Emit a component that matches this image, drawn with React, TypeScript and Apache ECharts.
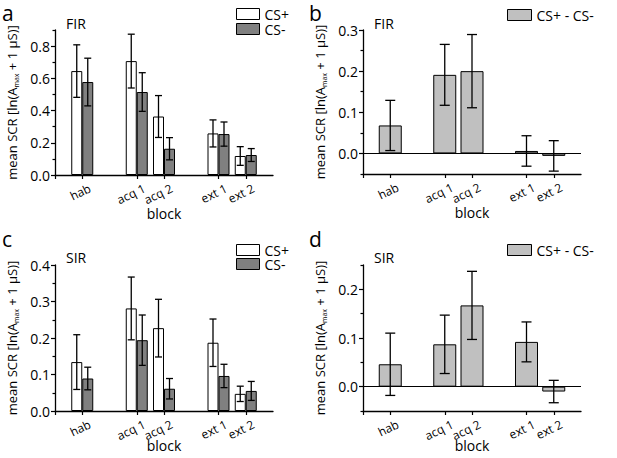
import React, { useEffect, useRef } from 'react';
import * as echarts from 'echarts';

// ---- data ----
const blocks = ['hab', 'acq 1', 'acq 2', 'ext 1', 'ext 2'];
const blockSlots = [1, 3, 4, 6, 7];
const slotCount = 9;

const firCsPlus = [0.645, 0.707, 0.363, 0.258, 0.118];
const firCsPlusErr = [0.163, 0.167, 0.13, 0.084, 0.058];
const firCsMinus = [0.577, 0.515, 0.163, 0.254, 0.124];
const firCsMinusErr = [0.148, 0.12, 0.069, 0.075, 0.04];
const firDiff = [0.068, 0.191, 0.2, 0.006, -0.006];
const firDiffErr = [0.061, 0.074, 0.089, 0.037, 0.037];

const sirCsPlus = [0.134, 0.281, 0.227, 0.187, 0.047];
const sirCsPlusErr = [0.075, 0.086, 0.079, 0.065, 0.021];
const sirCsMinus = [0.089, 0.194, 0.061, 0.096, 0.055];
const sirCsMinusErr = [0.031, 0.069, 0.028, 0.032, 0.026];
const sirDiff = [0.046, 0.087, 0.167, 0.092, -0.01];
const sirDiffErr = [0.064, 0.06, 0.07, 0.041, 0.023];

const yMajorA = [0, 0.2, 0.4, 0.6, 0.8];
const yMinorA = [0.1, 0.3, 0.5, 0.7, 0.9];
const yMajorB = [0, 0.1, 0.2, 0.3];
const yMinorB = [-0.05, 0.05, 0.15, 0.25];
const yMajorC = [0, 0.1, 0.2, 0.3, 0.4];
const yMinorC = [0.05, 0.15, 0.25, 0.35];
const yMajorD = [0, 0.1, 0.2];
const yMinorD = [-0.05, 0.05, 0.15, 0.25];

const categories: string[] = Array.from({ length: slotCount }, (_, i) => {
  const k = blockSlots.indexOf(i);
  return k >= 0 ? blocks[k] : '';
});

const FONT = '"Open Sans", "DejaVu Sans", sans-serif';
const GRAY = '#808080';
const LIGHT = '#c0c0c0';
const LABEL_ROT = 26;

function pairs(vals: number[]) {
  return vals.map((v, i) => [blockSlots[i], v]);
}
function errData(vals: number[], errs: number[]) {
  return vals.map((v, i) => [blockSlots[i], v, errs[i]]);
}

function errorSeries(idx: number, vals: number[], errs: number[], offset: number, cap: number) {
  return {
    type: 'custom',
    name: 'err' + idx + '_' + offset,
    xAxisIndex: idx,
    yAxisIndex: idx,
    z: 5,
    silent: true,
    encode: { x: 0, y: 1 },
    data: errData(vals, errs),
    renderItem: (params: any, api: any) => {
      const x = api.value(0);
      const m = api.value(1);
      const e = api.value(2);
      const hi = api.coord([x, m + e]);
      const lo = api.coord([x, m - e]);
      const cx = hi[0] + offset;
      const hw = cap / 2;
      const style = { stroke: '#000', lineWidth: 1.3 };
      return {
        type: 'group',
        children: [
          { type: 'line', shape: { x1: cx, y1: hi[1], x2: cx, y2: lo[1] }, style },
          { type: 'line', shape: { x1: cx - hw, y1: hi[1], x2: cx + hw, y2: hi[1] }, style },
          { type: 'line', shape: { x1: cx - hw, y1: lo[1], x2: cx + hw, y2: lo[1] }, style },
        ],
      };
    },
  };
}

const grids = [
  { left: 55, top: 30, width: 218, height: 145 },
  { left: 363, top: 30, width: 218, height: 144 },
  { left: 55, top: 265, width: 218, height: 146 },
  { left: 363, top: 265, width: 218, height: 146 },
];
const blockGaps = [31, 31, 27, 27];

const yRanges = [
  { min: 0, max: 0.9, major: yMajorA, minor: yMinorA },
  { min: -0.05, max: 0.3, major: yMajorB, minor: yMinorB },
  { min: 0, max: 0.4, major: yMajorC, minor: yMinorC },
  { min: -0.05, max: 0.25, major: yMajorD, minor: yMinorD },
];

function labelSeries(idx: number) {
  const yMin = yRanges[idx].min;
  return {
    type: 'custom',
    name: 'labels' + idx,
    xAxisIndex: idx,
    yAxisIndex: idx,
    silent: true,
    clip: false,
    z: 10,
    encode: { x: 0, y: 1 },
    data: blocks.map((_, k) => [blockSlots[k], yMin]),
    renderItem: (params: any, api: any) => {
      const p = api.coord([api.value(0), api.value(1)]);
      return {
        type: 'text',
        x: p[0] + 5,
        y: p[1] + 7,
        rotation: (LABEL_ROT * Math.PI) / 180,
        style: {
          text: blocks[params.dataIndex],
          fontFamily: FONT,
          fontSize: 12,
          fill: '#000',
          align: 'right',
          verticalAlign: 'top',
        },
      };
    },
  };
}

export default function App() {
  const ref = useRef<HTMLDivElement>(null);
  useEffect(() => {
    if (!ref.current) return;
    const chart = echarts.init(ref.current, undefined, { renderer: 'svg' });

    const xAxis = grids.map((_, i) => ({
      type: 'category',
      gridIndex: i,
      data: categories,
      boundaryGap: false,
      name: 'block',
      nameLocation: 'middle',
      nameGap: blockGaps[i],
      nameTextStyle: { fontFamily: FONT, fontSize: 14, color: '#000' },
      axisLine: { onZero: false, lineStyle: { color: '#000', width: 1.3 } },
      axisTick: {
        show: true,
        length: 4,
        interval: (index: number, value: string) => index === 0 || value !== '',
        lineStyle: { color: '#000', width: 1.2 },
      },
      axisLabel: { show: false },
      splitLine: { show: false },
    }));

    const yMain = yRanges.map((r, i) => ({
      type: 'value',
      gridIndex: i,
      min: r.min,
      max: r.max,
      name: '{a|mean SCR [ln(A}{s|max}{a| + 1 µS)]}',
      nameLocation: 'middle',
      nameRotate: 90,
      nameGap: 35,
      nameTextStyle: {
        rich: {
          a: { fontFamily: FONT, fontSize: 13, color: '#000', lineHeight: 15, verticalAlign: 'top' },
          s: { fontFamily: FONT, fontSize: 7, color: '#000', lineHeight: 9, padding: [8, 0, 0, 0] },
        },
      },
      axisLine: { show: true, lineStyle: { color: '#000', width: 1.3 } },
      axisTick: { show: true, length: 4, customValues: r.major, lineStyle: { color: '#000', width: 1.2 } },
      axisLabel: {
        customValues: r.major,
        margin: 5,
        fontFamily: FONT,
        fontSize: 14,
        color: '#000',
        formatter: (v: number) => v.toFixed(1),
      },
      splitLine: { show: false },
    }));

    const yMinor = yRanges.map((r, i) => ({
      type: 'value',
      gridIndex: i,
      min: r.min,
      max: r.max,
      position: 'left',
      axisLine: { show: false },
      axisTick: { show: true, length: 2.5, customValues: r.minor, lineStyle: { color: '#000', width: 1.2 } },
      axisLabel: { show: false },
      splitLine: { show: false },
    }));

    const pairBar = (idx: number, name: string, vals: number[], color: string) => ({
      type: 'bar',
      name,
      xAxisIndex: idx,
      yAxisIndex: idx,
      barWidth: 11,
      barGap: '0%',
      z: 2,
      data: pairs(vals),
      itemStyle: { color, borderColor: '#000', borderWidth: 1 },
    });

    const diffBar = (idx: number, vals: number[]) => ({
      type: 'bar',
      name: 'CS+ - CS-',
      xAxisIndex: idx,
      yAxisIndex: idx,
      barWidth: 23,
      z: 2,
      data: pairs(vals),
      itemStyle: { color: LIGHT, borderColor: '#000', borderWidth: 1 },
      markLine: {
        silent: true,
        symbol: ['none', 'none'],
        label: { show: false },
        lineStyle: { color: '#000', type: 'solid', width: 1.2 },
        data: [{ yAxis: 0 }],
      },
    });

    const series: any[] = [
      pairBar(0, 'CS+', firCsPlus, '#ffffff'),
      pairBar(0, 'CS-', firCsMinus, GRAY),
      errorSeries(0, firCsPlus, firCsPlusErr, -5.5, 7),
      errorSeries(0, firCsMinus, firCsMinusErr, 5.5, 7),
      diffBar(1, firDiff),
      errorSeries(1, firDiff, firDiffErr, 0, 10),
      pairBar(2, 'CS+', sirCsPlus, '#ffffff'),
      pairBar(2, 'CS-', sirCsMinus, GRAY),
      errorSeries(2, sirCsPlus, sirCsPlusErr, -5.5, 7),
      errorSeries(2, sirCsMinus, sirCsMinusErr, 5.5, 7),
      diffBar(3, sirDiff),
      errorSeries(3, sirDiff, sirDiffErr, 0, 10),
      labelSeries(0),
      labelSeries(1),
      labelSeries(2),
      labelSeries(3),
    ];

    const legendText = { fontFamily: FONT, fontSize: 14, color: '#000', lineHeight: 13 };
    const pairLegendData = [
      { name: 'CS+', itemStyle: { color: '#ffffff', borderColor: '#000', borderWidth: 1 } },
      { name: 'CS-', itemStyle: { color: GRAY, borderColor: '#000', borderWidth: 1 } },
    ];
    const diffLegendData = [
      { name: 'CS+ - CS-', itemStyle: { color: LIGHT, borderColor: '#000', borderWidth: 1 } },
    ];
    const legend = [
      { left: 236, top: 7, orient: 'vertical', itemWidth: 23, itemHeight: 11, itemGap: 1, icon: 'rect', selectedMode: false, padding: 0, textStyle: legendText, data: pairLegendData },
      { left: 507, top: 8, orient: 'vertical', itemWidth: 24, itemHeight: 11, icon: 'rect', selectedMode: false, padding: 0, textStyle: legendText, data: diffLegendData },
      { left: 236, top: 243, orient: 'vertical', itemWidth: 23, itemHeight: 11, itemGap: 0, icon: 'rect', selectedMode: false, padding: 0, textStyle: legendText, data: pairLegendData },
      { left: 507, top: 243, orient: 'vertical', itemWidth: 24, itemHeight: 11, icon: 'rect', selectedMode: false, padding: 0, textStyle: legendText, data: diffLegendData },
    ];

    const txt = (text: string, x: number, y: number, size: number) => ({
      type: 'text',
      x,
      y,
      silent: true,
      style: { text, fontFamily: FONT, fontSize: size, lineHeight: size, fill: '#000', verticalAlign: 'middle', align: 'left' },
    });

    chart.setOption({
      animation: false,
      backgroundColor: '#ffffff',
      grid: grids,
      xAxis,
      yAxis: [...yMain, ...yMinor],
      legend,
      series,
      graphic: [
        txt('a', 2, 13, 21),
        txt('b', 309, 13, 21),
        txt('c', 2, 239, 21),
        txt('d', 309, 239, 21),
        txt('FIR', 66, 23, 14),
        txt('FIR', 374, 23, 14),
        txt('SIR', 66, 257, 14),
        txt('SIR', 374, 257, 14),
      ],
    });
    return () => chart.dispose();
  }, []);
  return <div ref={ref} style={{ position: 'fixed', left: 0, top: 0, width: 617, height: 458 }} />;
}
